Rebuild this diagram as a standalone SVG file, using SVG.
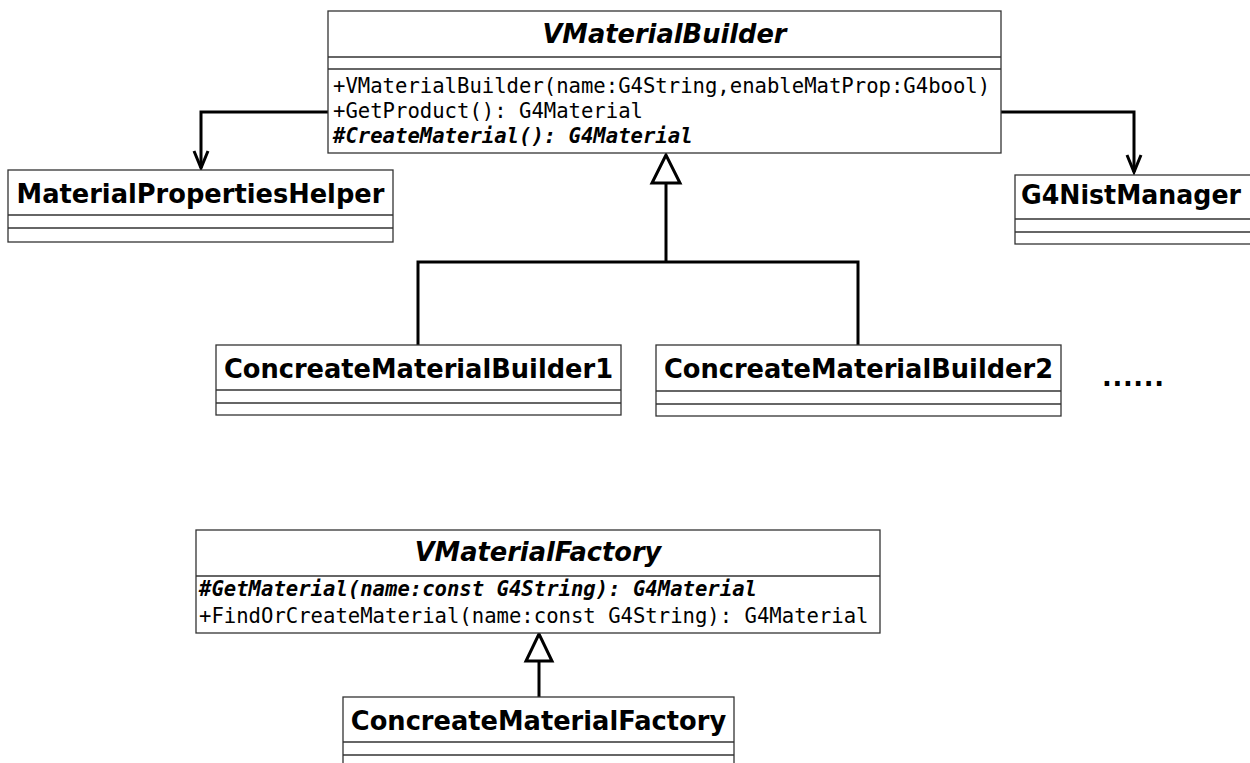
<svg xmlns="http://www.w3.org/2000/svg" width="1250" height="763" viewBox="0 0 1250 763">
<style>
.box{fill:#fff;stroke:#333;stroke-width:1.3}
.div{stroke:#333;stroke-width:1.3;fill:none}
.title{font-family:"DejaVu Sans","Liberation Sans",sans-serif;font-weight:bold;font-size:25.7px;fill:#000}
.abs{font-style:italic}
.op{font-family:"DejaVu Sans Mono","Liberation Mono",monospace;font-size:20.6px;fill:#000}
.aop{font-weight:bold;font-style:italic}
.conn{fill:none;stroke:#000;stroke-width:3}
.tri{fill:#fff;stroke:#000;stroke-width:3;stroke-linejoin:miter}
</style>
<rect width="1250" height="763" fill="#fff"/>
<g id="connectors">
  <polyline class="conn" points="328,112 201,112 201,168"/>
  <polyline class="conn" points="194,151 201,168 208,151"/>
  <polyline class="conn" points="1001,112 1134,112 1134,172"/>
  <polyline class="conn" points="1127,155 1134,172 1141,155"/>
  <line class="conn" x1="666" y1="183" x2="666" y2="262"/>
  <polyline class="conn" points="418,345 418,262 858,262 858,345"/>
  <polygon class="tri" points="666,155 652,183 680,183"/>
  <line class="conn" x1="539" y1="661" x2="539" y2="697"/>
  <polygon class="tri" points="539,634 526,661 552,661"/>
</g>
<g id="VMaterialBuilder">
  <rect class="box" x="328" y="11" width="673" height="142"/>
  <line class="div" x1="328" y1="57" x2="1001" y2="57"/>
  <line class="div" x1="328" y1="69" x2="1001" y2="69"/>
  <text class="title abs" x="664.5" y="43" text-anchor="middle">VMaterialBuilder</text>
  <text class="op" x="333" y="93">+VMaterialBuilder(name:G4String,enableMatProp:G4bool)</text>
  <text class="op" x="333" y="118">+GetProduct(): G4Material</text>
  <text class="op aop" x="333" y="143">#CreateMaterial(): G4Material</text>
</g>
<g id="MaterialPropertiesHelper">
  <rect class="box" x="8" y="170" width="385" height="72"/>
  <line class="div" x1="8" y1="215" x2="393" y2="215"/>
  <line class="div" x1="8" y1="228" x2="393" y2="228"/>
  <text class="title" x="200.5" y="203" text-anchor="middle">MaterialPropertiesHelper</text>
</g>
<g id="G4NistManager">
  <rect class="box" x="1015" y="175" width="250" height="69"/>
  <line class="div" x1="1015" y1="219" x2="1265" y2="219"/>
  <line class="div" x1="1015" y1="232" x2="1265" y2="232"/>
  <text class="title" x="1021" y="204" textLength="220" lengthAdjust="spacingAndGlyphs">G4NistManager</text>
</g>
<g id="ConcreateMaterialBuilder1">
  <rect class="box" x="216" y="345" width="405" height="70"/>
  <line class="div" x1="216" y1="390" x2="621" y2="390"/>
  <line class="div" x1="216" y1="403" x2="621" y2="403"/>
  <text class="title" x="418.5" y="378" text-anchor="middle">ConcreateMaterialBuilder1</text>
</g>
<g id="ConcreateMaterialBuilder2">
  <rect class="box" x="656" y="345" width="405" height="71"/>
  <line class="div" x1="656" y1="391" x2="1061" y2="391"/>
  <line class="div" x1="656" y1="404" x2="1061" y2="404"/>
  <text class="title" x="858.5" y="378" text-anchor="middle">ConcreateMaterialBuilder2</text>
</g>
<g id="ellipsis">
  <text class="title" x="1102" y="386" textLength="62" lengthAdjust="spacing">......</text>
</g>
<g id="VMaterialFactory">
  <rect class="box" x="196" y="530" width="684" height="103"/>
  <line class="div" x1="196" y1="576" x2="880" y2="576"/>
  <text class="title abs" x="538" y="561" text-anchor="middle">VMaterialFactory</text>
  <text class="op aop" x="199" y="596">#GetMaterial(name:const G4String): G4Material</text>
  <text class="op" x="199" y="623">+FindOrCreateMaterial(name:const G4String): G4Material</text>
</g>
<g id="ConcreateMaterialFactory">
  <rect class="box" x="343" y="697" width="391" height="80"/>
  <line class="div" x1="343" y1="742" x2="734" y2="742"/>
  <line class="div" x1="343" y1="755" x2="734" y2="755"/>
  <text class="title" x="538.5" y="730" text-anchor="middle">ConcreateMaterialFactory</text>
</g>
</svg>
